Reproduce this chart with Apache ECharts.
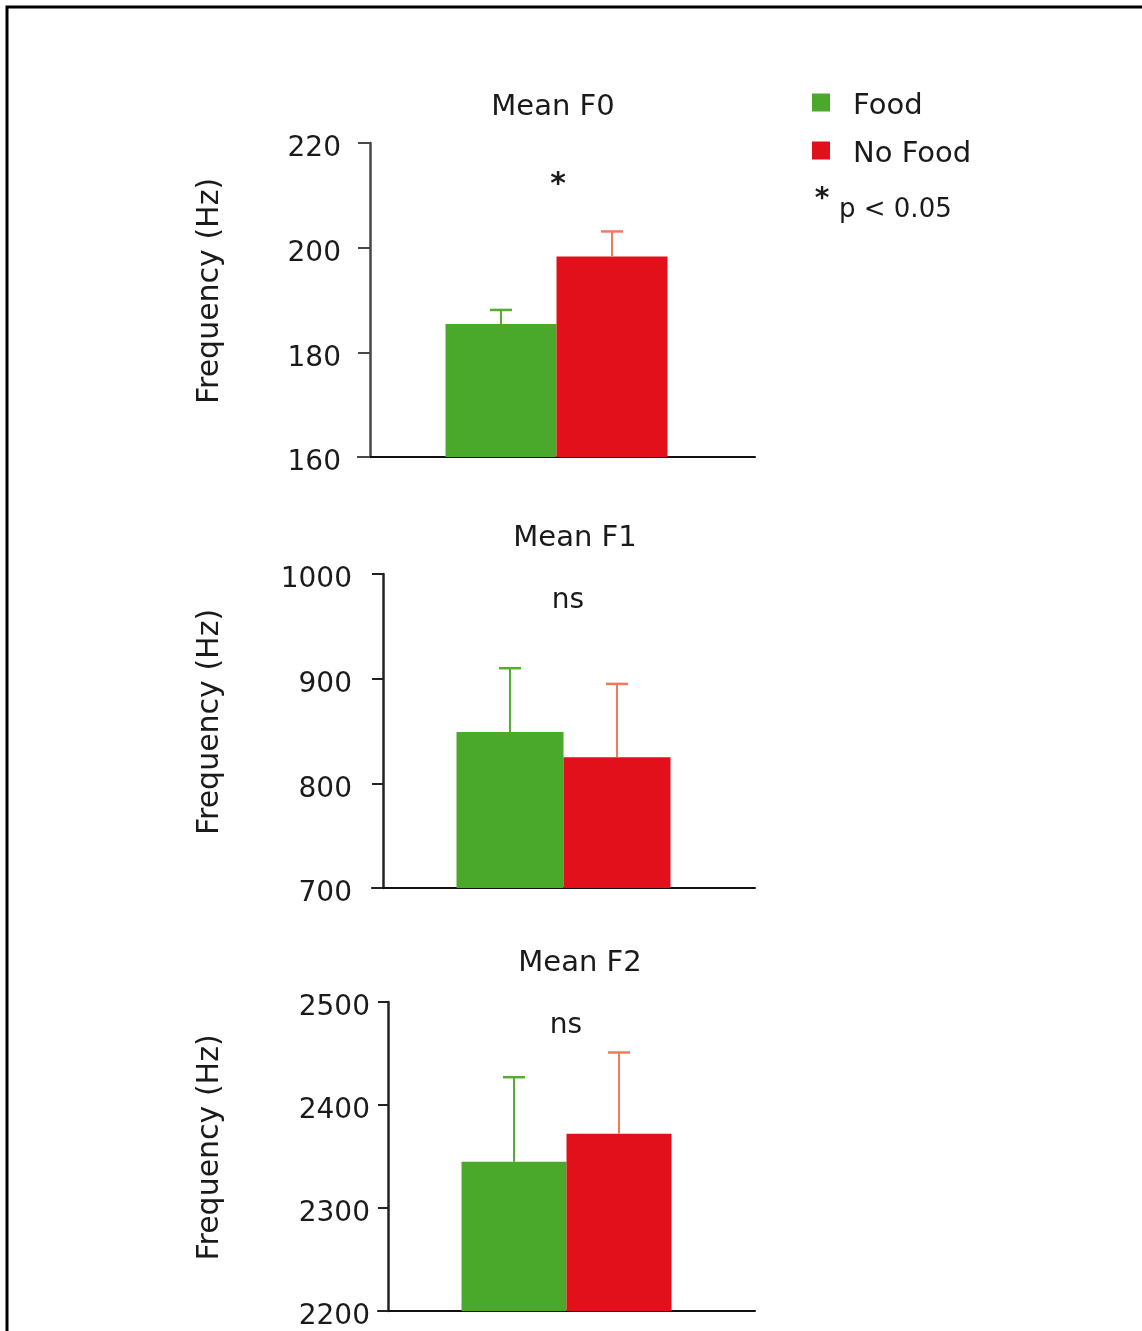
<!DOCTYPE html>
<html><head><meta charset="utf-8">
<script src="https://cdn.jsdelivr.net/npm/echarts@6/dist/echarts.min.js"></script>
<style>html,body{margin:0;padding:0;background:#fff}#c{width:1142px;height:1331px}</style>
</head><body><div id="c"></div>
<script>
// ---- data ----
const seriesNames = ['Food', 'No Food'];
const panelTitles = ['Mean F0', 'Mean F1', 'Mean F2'];
const panelNotes = ['*', 'ns', 'ns'];
const yAxisTitle = 'Frequency (Hz)';
const f0Means = [185.4, 198.3];
const f0Errors = [2.7, 4.8];
const f1Means = [849, 825];
const f1Errors = [61, 70];
const f2Means = [2345, 2372];
const f2Errors = [82, 79];
const f0TickLabels = [160, 180, 200, 220];
const f1TickLabels = [700, 800, 900, 1000];
const f2TickLabels = [2200, 2300, 2400, 2500];
const sigNote = 'p < 0.05';

// ---- layout / style ----
const FONT = '"DejaVu Sans", "Liberation Sans", Arial, sans-serif';
const TXT = '#1a1a1a';
const barColors = ['#4aa82b', '#e2101b'];
const errColors = ['#55ad2f', '#f07a5a'];
const panels = [
  {means: f0Means, errs: f0Errors, ticks: f0TickLabels, top: 143, bottom: 874, left: 358, tick: 12, barW: 111, margin: 29, nameGap: 145, axisColor: '#4d4646', titleX: 553, titleY: 107, noteX: 558, noteY: 185, noteSize: 30},
  {means: f1Means, errs: f1Errors, ticks: f1TickLabels, top: 574, bottom: 443, left: 372, tick: 11, barW: 107, margin: 31, nameGap: 158, axisColor: '#222', titleX: 575, titleY: 538, noteX: 568, noteY: 601, noteSize: 28},
  {means: f2Means, errs: f2Errors, ticks: f2TickLabels, top: 1002, bottom: 20, left: 378, tick: 10, barW: 105, margin: 18, nameGap: 163, axisColor: '#222', titleX: 580, titleY: 963, noteX: 566, noteY: 1026, noteSize: 28}
];

function errRender(barW, color) {
  return function (params, api) {
    const cat = api.value(0);
    const si = api.value(3);
    const p0 = api.coord([cat, api.value(1)]);
    const p1 = api.coord([cat, api.value(2)]);
    const x = p0[0] + (si === 0 ? -1 : 1) * barW / 2;
    return {
      type: 'group',
      children: [
        {type: 'line', shape: {x1: x, y1: p0[1], x2: x, y2: p1[1]}, style: {stroke: color, lineWidth: 2}},
        {type: 'line', shape: {x1: x - 11, y1: p1[1], x2: x + 11, y2: p1[1]}, style: {stroke: color, lineWidth: 2.5}}
      ]
    };
  };
}

const grid = [], xAxis = [], yAxis = [], series = [], graphic = [];
panels.forEach((p, i) => {
  grid.push({left: p.left, right: 387, top: p.top, bottom: p.bottom, containLabel: false});
  xAxis.push({
    type: 'category', gridIndex: i, data: [panelTitles[i]],
    axisLine: {show: true, lineStyle: {color: '#111', width: 2}},
    axisTick: {show: false}, axisLabel: {show: false}, splitLine: {show: false}
  });
  yAxis.push({
    type: 'value', gridIndex: i,
    min: p.ticks[0], max: p.ticks[p.ticks.length - 1], interval: p.ticks[1] - p.ticks[0],
    offset: -p.tick,
    axisLine: {show: true, lineStyle: {color: p.axisColor, width: 2.5}},
    axisTick: {show: true, inside: false, length: p.tick, lineStyle: {color: p.axisColor, width: 2}},
    axisLabel: {margin: p.margin, fontSize: 28, color: TXT, fontFamily: FONT,
      formatter: v => '{t|' + v + '}',
      rich: {t: {fontSize: 28, color: TXT, fontFamily: FONT, lineHeight: 28, padding: [12, 0, 0, 0]}}},
    splitLine: {show: false},
    name: yAxisTitle, nameLocation: 'middle', nameGap: p.nameGap,
    nameTextStyle: {fontSize: 30, color: TXT, fontFamily: FONT, padding: [0, 0, 0, 18]}
  });
  seriesNames.forEach((nm, si) => {
    series.push({
      type: 'bar', name: nm, xAxisIndex: i, yAxisIndex: i,
      data: [p.means[si]], barWidth: p.barW, barGap: '0%',
      itemStyle: {color: barColors[si]}, silent: true, z: 2
    });
  });
  seriesNames.forEach((nm, si) => {
    series.push({
      type: 'custom', name: nm + ' error', xAxisIndex: i, yAxisIndex: i,
      renderItem: errRender(p.barW, errColors[si]),
      data: [[0, p.means[si], p.means[si] + p.errs[si], si]],
      encode: {x: 0, y: [1, 2]}, silent: true, z: 3
    });
  });
  graphic.push({type: 'text', x: p.titleX, y: p.titleY,
    style: {text: panelTitles[i], fontSize: 29, fill: TXT, fontFamily: FONT, textAlign: 'center', textVerticalAlign: 'middle'}});
  graphic.push({type: 'text', x: p.noteX, y: p.noteY,
    style: {text: panelNotes[i], fontSize: p.noteSize, fontWeight: i === 0 ? 'bold' : 'normal', fill: TXT, fontFamily: FONT, textAlign: 'center', textVerticalAlign: 'middle'}});
});

graphic.push({type: 'text', x: 822, y: 200, style: {text: '*', fontSize: 28, fontWeight: 'bold', fill: TXT, fontFamily: FONT, textAlign: 'center', textVerticalAlign: 'middle'}});
graphic.push({type: 'text', x: 839, y: 210, style: {text: sigNote, fontSize: 26, fill: TXT, fontFamily: FONT, textAlign: 'left', textVerticalAlign: 'middle'}});
graphic.push({type: 'rect', shape: {x: 7, y: 7, width: 1300, height: 1500}, style: {fill: 'none', stroke: '#000', lineWidth: 3}, silent: true});

const chart = echarts.init(document.getElementById('c'), null, {renderer: 'canvas'});
chart.setOption({
  backgroundColor: '#fff',
  animation: false,
  legend: {
    data: seriesNames, orient: 'vertical', left: 812, top: 84, padding: 0,
    icon: 'rect', itemWidth: 18, itemHeight: 18, itemGap: 11, selectedMode: false,
    formatter: name => '{t|' + name + '}',
    textStyle: {fontSize: 29, color: TXT, fontFamily: FONT,
      rich: {t: {fontSize: 29, color: TXT, fontFamily: FONT, lineHeight: 18, padding: [8, 0, 0, 18]}}}
  },
  grid, xAxis, yAxis, series, graphic
});
</script></body></html>
